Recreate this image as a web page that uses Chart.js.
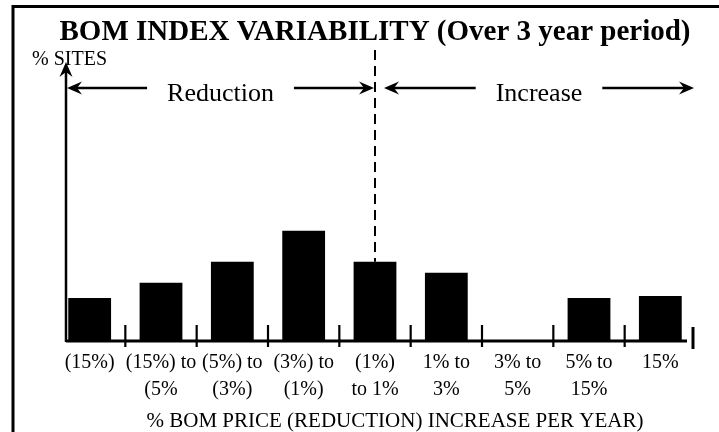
<!DOCTYPE html>
<html>
<head>
<meta charset="utf-8">
<script src="https://cdn.jsdelivr.net/npm/chart.js@4/dist/chart.umd.min.js"></script>
<style>
  html, body { margin: 0; padding: 0; background: #fff; }
  #wrap { width: 719px; height: 432px; }
</style>
</head>
<body>
<div id="wrap"><canvas id="bomChart" width="719" height="432"></canvas></div>
<script>
// ===== DATA =====
const categories = [
  '(15%)',
  ['(15%) to', '(5%'],
  ['(5%) to', '(3%)'],
  ['(3%) to', '(1%)'],
  ['(1%)', 'to 1%'],
  ['1% to', '3%'],
  ['3% to', '5%'],
  ['5% to', '15%'],
  '15%'
];
const sitePct = [8.2, 11.1, 15.1, 21, 15.1, 13, 0, 8.2, 8.6];
const yMax = 54;
const splitIndex = 4; // dashed divider sits on this category

const SERIF = "'Liberation Serif', 'Times New Roman', serif";
Chart.defaults.font.family = SERIF;
Chart.defaults.color = '#000';

// filled stealth-style arrowhead pointing along (dx, dy)
function arrowHead(ctx, x, y, dx, dy) {
  const len = 15, half = 6.5, notch = 10;
  const px = -dy, py = dx;
  ctx.beginPath();
  ctx.moveTo(x, y);
  ctx.lineTo(x - dx * len + px * half, y - dy * len + py * half);
  ctx.lineTo(x - dx * notch, y - dy * notch);
  ctx.lineTo(x - dx * len - px * half, y - dy * len - py * half);
  ctx.closePath();
  ctx.fill();
}

function line(ctx, x1, y1, x2, y2, w) {
  ctx.lineWidth = w;
  ctx.beginPath(); ctx.moveTo(x1, y1); ctx.lineTo(x2, y2); ctx.stroke();
}

// ===== DECORATION PLUGIN =====
const sketch = {
  id: 'sketch',
  afterDatasetsDraw(chart) {
    const { ctx, chartArea: a, scales: { x, y } } = chart;
    const base = y.getPixelForValue(0);
    const step = x.getPixelForValue(1) - x.getPixelForValue(0);
    const axisX = a.left + 12;
    const divX = x.getPixelForValue(splitIndex);
    ctx.save();
    ctx.strokeStyle = '#000'; ctx.fillStyle = '#000';

    // frame (top + left)
    ctx.lineWidth = 3;
    ctx.beginPath(); ctx.moveTo(13, 432); ctx.lineTo(13, 6.5); ctx.lineTo(719, 6.5); ctx.stroke();

    // y axis with arrow
    line(ctx, axisX, base + 1, axisX, 70, 2.5);
    arrowHead(ctx, axisX, 62, 0, -1);

    // x axis baseline + ticks at category boundaries
    line(ctx, axisX, base, a.right - 9, base, 3);
    for (let i = 0; i < categories.length - 1; i++) {
      const bx = (x.getPixelForValue(i) + x.getPixelForValue(i + 1)) / 2;
      line(ctx, bx, base - 16, bx, base + 6, 2.2);
    }
    const endX = x.getPixelForValue(categories.length - 1) + step / 2 - 3;
    line(ctx, endX, base - 14, endX, base + 8, 3);

    // dashed divider down to the split bar
    ctx.setLineDash([10, 6]);
    line(ctx, divX, 50, divX, y.getPixelForValue(sitePct[splitIndex]), 2);
    ctx.setLineDash([]);

    // % SITES
    ctx.font = '20px ' + SERIF;
    ctx.textAlign = 'left'; ctx.textBaseline = 'alphabetic';
    ctx.fillText('% SITES', 32, 65);

    // Reduction / Increase arrows
    const arrowY = 88, gap = 20;
    ctx.font = '26px ' + SERIF;
    ctx.textAlign = 'center';
    function span(x1, x2, label) {
      const c = (x1 + x2) / 2, w = ctx.measureText(label).width;
      ctx.fillText(label, c, 101);
      line(ctx, x1 + 8, arrowY, c - w / 2 - gap, arrowY, 2.5);
      line(ctx, c + w / 2 + gap, arrowY, x2 - 8, arrowY, 2.5);
      arrowHead(ctx, x1, arrowY, -1, 0);
      arrowHead(ctx, x2, arrowY, 1, 0);
    }
    span(axisX + 1, divX - 1, 'Reduction');
    span(divX + 9, 694, 'Increase');

    // x axis title
    ctx.font = '21px ' + SERIF;
    ctx.fillText('% BOM PRICE (REDUCTION) INCREASE PER YEAR)', (a.left + a.right) / 2 + 20, 427);
    ctx.restore();
  }
};

new Chart(document.getElementById('bomChart'), {
  type: 'bar',
  data: {
    labels: categories,
    datasets: [{
      data: sitePct,
      backgroundColor: '#000',
      borderWidth: 0,
      barPercentage: 0.6,
      categoryPercentage: 1
    }]
  },
  options: {
    responsive: false,
    animation: false,
    devicePixelRatio: 1,
    layout: { padding: { left: 54, right: 23, top: 15, bottom: 21 } },
    plugins: {
      legend: { display: false },
      tooltip: { enabled: false },
      title: {
        display: true,
        text: 'BOM INDEX VARIABILITY (Over 3 year period)',
        color: '#000',
        font: { size: 29, weight: 'bold', family: SERIF, lineHeight: 1.2 },
        padding: { top: 0, bottom: 8 }
      }
    },
    scales: {
      x: {
        grid: { display: false, drawTicks: false },
        border: { display: false },
        ticks: {
          autoSkip: false, maxRotation: 0, minRotation: 0, padding: 8,
          color: '#000',
          font: { size: 20, lineHeight: 1.35 }
        }
      },
      y: { display: false, min: 0, max: yMax }
    }
  },
  plugins: [sketch]
});
</script>
</body>
</html>
